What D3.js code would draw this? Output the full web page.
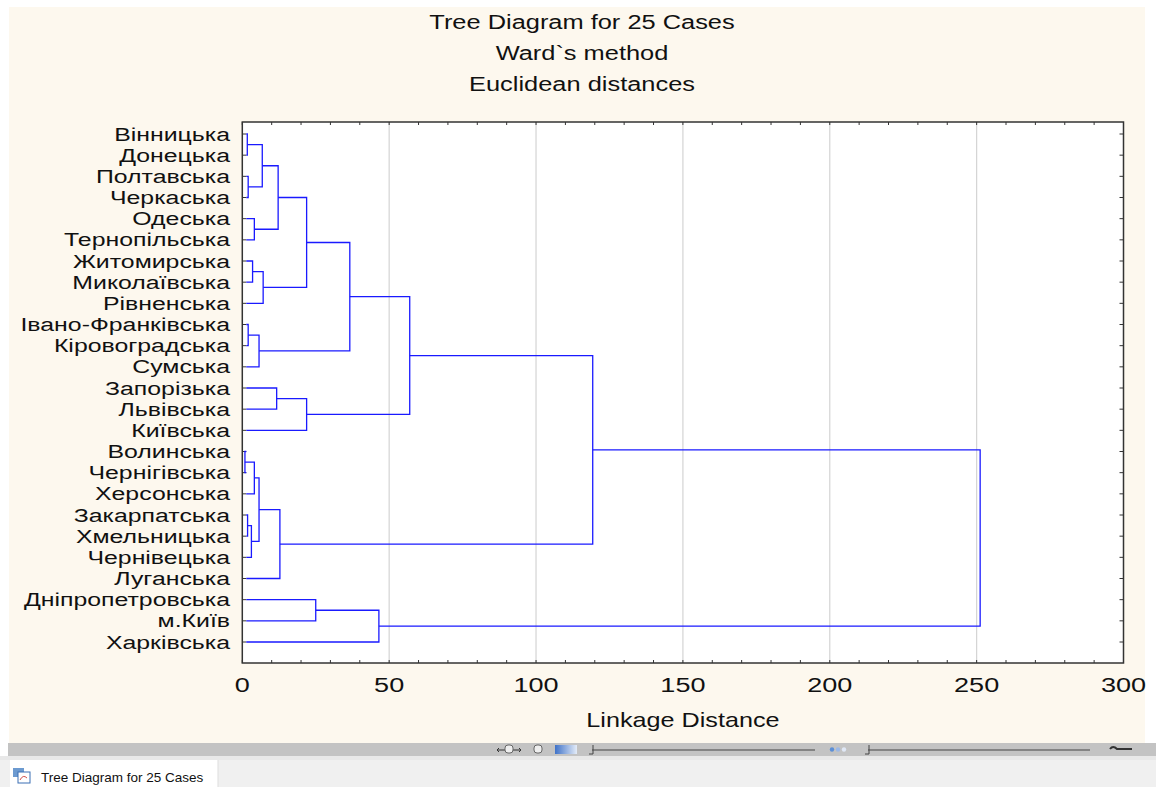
<!DOCTYPE html>
<html><head><meta charset="utf-8">
<script src="https://cdn.jsdelivr.net/npm/d3@7"></script>
<style>
html,body{margin:0;padding:0;background:#fff;}
svg{display:block;font-family:"Liberation Sans",Arial,sans-serif;}
</style></head>
<body>
<svg id="c" width="1156" height="787"></svg>
<script>
const leaves = ["Вінницька","Донецька","Полтавська","Черкаська","Одеська","Тернопільська","Житомирська","Миколаївська","Рівненська","Івано-Франківська","Кіровоградська","Сумська","Запорізька","Львівська","Київська","Волинська","Чернігівська","Херсонська","Закарпатська","Хмельницька","Чернівецька","Луганська","Дніпропетровська","м.Київ","Харківська"];
// merges: [child A, child B, linkage distance]; ids 0..24 are leaves, 25.. are merges in order
const merges = [
 [15,16,0.9],[0,1,1.7],[18,19,1.8],[2,3,2.0],[9,10,2.0],[27,20,3.1],[6,7,3.5],[4,5,4.1],
 [25,17,4.1],[29,11,5.7],[33,30,5.7],[26,28,6.8],[31,8,7.1],[12,13,11.7],[36,32,12.2],
 [35,21,12.8],[39,37,21.9],[38,14,21.9],[22,23,25.0],[41,34,36.6],[43,24,46.5],
 [44,42,57.0],[46,40,119.3],[47,45,251.2]
];
const xTicks = [0,50,100,150,200,250,300];
const titles = ["Tree Diagram for 25 Cases","Ward`s method","Euclidean distances"];
const xTitle = "Linkage Distance";
const tabTitle = "Tree Diagram for 25 Cases";

const svg = d3.select("#c");
const L=242.3, R=1123.5, T=122, B=663;

svg.append("rect").attr("x",9).attr("y",7).attr("width",1136).attr("height",736).attr("fill","#fdf8ee");
svg.append("rect").attr("x",L).attr("y",T).attr("width",R-L).attr("height",B-T).attr("fill","#fff");

const x = d3.scaleLinear().domain([0,300]).range([L,R]);
const y = d3.scalePoint().domain(d3.range(leaves.length)).range([134,642]);

function stext(g, tx, ty, s, anchor, size, sx){
  return g.append("text").attr("transform",`translate(${tx},${ty}) scale(${sx},1)`)
   .attr("text-anchor",anchor).attr("font-size",size).attr("fill","#111").text(s);
}

// grid
svg.append("g").selectAll("line").data(xTicks.slice(1,-1)).join("line")
  .attr("x1",d=>x(d)).attr("x2",d=>x(d)).attr("y1",T).attr("y2",B)
  .attr("stroke","#d4d4d4").attr("stroke-width",1.2);

// minor ticks top/bottom
const minor = d3.range(0,301,10);
svg.append("g").selectAll("line").data(minor).join("line")
  .attr("x1",d=>x(d)).attr("x2",d=>x(d)).attr("y1",B).attr("y2",B-3).attr("stroke","#333");
svg.append("g").selectAll("line").data(minor).join("line")
  .attr("x1",d=>x(d)).attr("x2",d=>x(d)).attr("y1",T).attr("y2",T+3).attr("stroke","#333");
// leaf ticks left/right
svg.append("g").selectAll("line").data(d3.range(leaves.length)).join("line")
  .attr("x1",L).attr("x2",L+4).attr("y1",d=>y(d)).attr("y2",d=>y(d)).attr("stroke","#333");
svg.append("g").selectAll("line").data(d3.range(leaves.length)).join("line")
  .attr("x1",R).attr("x2",R-4).attr("y1",d=>y(d)).attr("y2",d=>y(d)).attr("stroke","#333");

// dendrogram
const nodes = leaves.map((n,i)=>({y:y(i),h:0}));
merges.forEach(m=>nodes.push({y:(nodes[m[0]].y+nodes[m[1]].y)/2,h:m[2]}));
const dg = svg.append("g").attr("stroke","#1a1aff").attr("stroke-width",1.3).attr("fill","none");
merges.forEach((m,i)=>{
  const a=nodes[m[0]], b=nodes[m[1]], hx=x(m[2]);
  const p=d3.path();
  p.moveTo(x(a.h)+(a.h===0?4:0),a.y); p.lineTo(hx,a.y); p.lineTo(hx,b.y); p.lineTo(x(b.h)+(b.h===0?4:0),b.y);
  dg.append("path").attr("d",p.toString());
});

// frame
svg.append("rect").attr("x",L).attr("y",T).attr("width",R-L).attr("height",B-T)
  .attr("fill","none").attr("stroke","#333").attr("stroke-width",1.5);

// labels
const lg = svg.append("g");
leaves.forEach((n,i)=>stext(lg,230,y(i)+6.5,n,"end",18,1.38));
xTicks.forEach(t=>stext(lg,x(t),692,String(t),"middle",20.5,1.32));
stext(lg,(L+R)/2,727,xTitle,"middle",20,1.26);
titles.forEach((t,i)=>stext(lg,582,29+i*31,t,"middle",20,1.27));

// bottom toolbar & tab bar
svg.append("rect").attr("x",8).attr("y",743).attr("width",1148).attr("height",13).attr("fill","#c3c3c3");
svg.append("rect").attr("x",0).attr("y",756).attr("width",1156).attr("height",4).attr("fill","#e8e8e8");
svg.append("rect").attr("x",0).attr("y",760).attr("width",1156).attr("height",27).attr("fill","#f0f0f0");
svg.append("rect").attr("x",10).attr("y",760).attr("width",208).attr("height",27).attr("fill","#fff");
svg.append("line").attr("x1",218).attr("x2",218).attr("y1",760).attr("y2",787).attr("stroke","#ddd");
// toolbar glyphs
const grad = svg.append("defs").append("linearGradient").attr("id","gb");
grad.append("stop").attr("offset","0").attr("stop-color","#3f72c8");
grad.append("stop").attr("offset","1").attr("stop-color","#e4ecf8");
svg.append("rect").attr("x",555).attr("y",745).attr("width",22).attr("height",9).attr("fill","url(#gb)");
[[592,815],[868,1090]].forEach(s=>{
  svg.append("line").attr("x1",s[0]).attr("x2",s[1]).attr("y1",750).attr("y2",750).attr("stroke","#444").attr("stroke-width",1.2);
  svg.append("path").attr("d",`M${s[0]+1},745V754H${s[0]-3}`).attr("fill","none").attr("stroke","#444");
});
[[802,"#5c8fd6"],[808,"#9bb8e6"],[814,"#e0e8f6"]].forEach(d=>svg.append("circle").attr("cx",d[0]+30).attr("cy",749.5).attr("r",2.2).attr("fill",d[1]));
svg.append("path").attr("d","M497,750h24M499,748l-2,2l2,2M519,748l2,2l-2,2").attr("stroke","#333").attr("fill","none");
svg.append("rect").attr("x",505).attr("y",745).attr("width",8).attr("height",8).attr("rx",3).attr("fill","#eee").attr("stroke","#666");
svg.append("rect").attr("x",534).attr("y",745).attr("width",8).attr("height",8).attr("rx",3).attr("fill","#eee").attr("stroke","#666");
svg.append("path").attr("d","M1110,749q3,-4 7,0h15").attr("stroke","#333").attr("stroke-width",2).attr("fill","none");
// tab icon
svg.append("rect").attr("x",13).attr("y",768).attr("width",11).attr("height",9).attr("fill","#6c9ad0");
svg.append("rect").attr("x",18).attr("y",772).attr("width",12).attr("height",11).attr("fill","#fff").attr("stroke","#3b6fb4");
svg.append("path").attr("d","M20,780q3,-6 7,-2").attr("stroke","#d0504a").attr("fill","none");
svg.append("text").attr("x",41).attr("y",782).attr("font-size",13.5).attr("fill","#111").text(tabTitle);
</script>
</body></html>
